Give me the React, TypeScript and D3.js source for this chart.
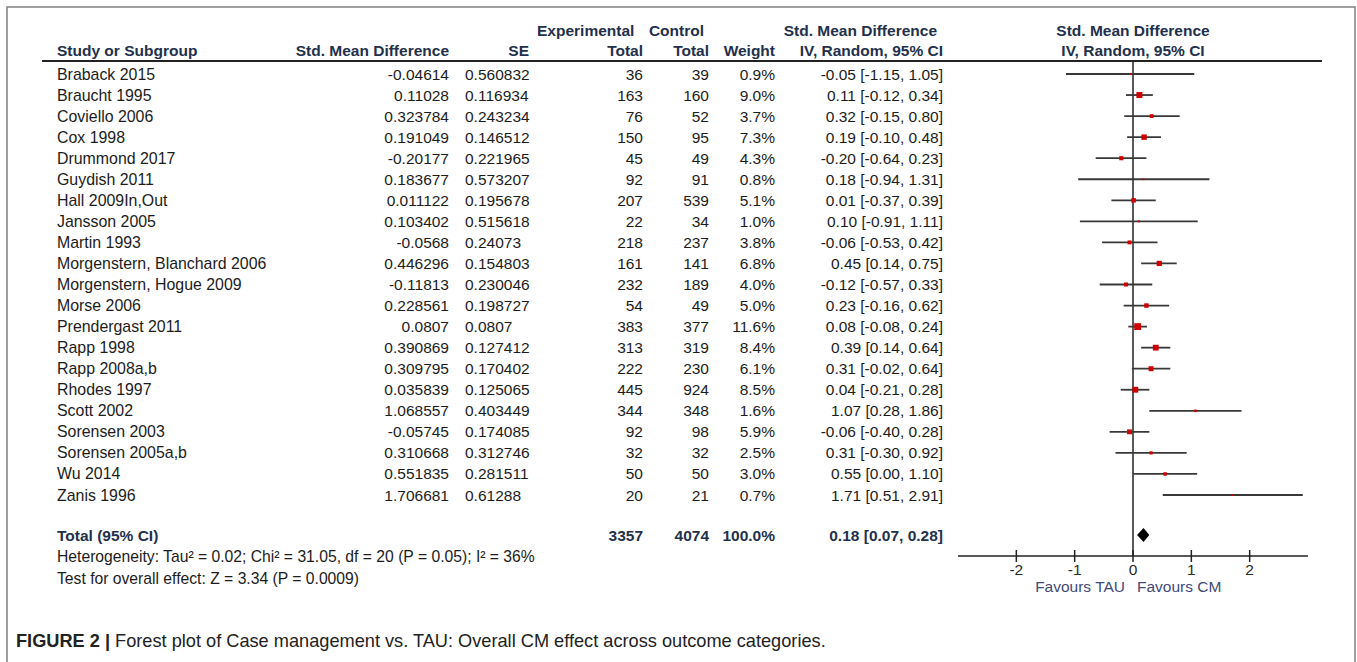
import React from "react";
import * as d3 from "d3";

const studies = [
  "Braback 2015", "Braucht 1995", "Coviello 2006", "Cox 1998", "Drummond 2017",
  "Guydish 2011", "Hall 2009In,Out", "Jansson 2005", "Martin 1993",
  "Morgenstern, Blanchard 2006", "Morgenstern, Hogue 2009", "Morse 2006",
  "Prendergast 2011", "Rapp 1998", "Rapp 2008a,b", "Rhodes 1997", "Scott 2002",
  "Sorensen 2003", "Sorensen 2005a,b", "Wu 2014", "Zanis 1996",
];
const smdText = [
  "-0.04614", "0.11028", "0.323784", "0.191049", "-0.20177", "0.183677", "0.011122",
  "0.103402", "-0.0568", "0.446296", "-0.11813", "0.228561", "0.0807", "0.390869",
  "0.309795", "0.035839", "1.068557", "-0.05745", "0.310668", "0.551835", "1.706681",
];
const seText = [
  "0.560832", "0.116934", "0.243234", "0.146512", "0.221965", "0.573207", "0.195678",
  "0.515618", "0.24073", "0.154803", "0.230046", "0.198727", "0.0807", "0.127412",
  "0.170402", "0.125065", "0.403449", "0.174085", "0.312746", "0.281511", "0.61288",
];
const expTotal = [36, 163, 76, 150, 45, 92, 207, 22, 218, 161, 232, 54, 383, 313, 222, 445, 344, 92, 32, 50, 20];
const ctrlTotal = [39, 160, 52, 95, 49, 91, 539, 34, 237, 141, 189, 49, 377, 319, 230, 924, 348, 98, 32, 50, 21];
const weights = [0.9, 9.0, 3.7, 7.3, 4.3, 0.8, 5.1, 1.0, 3.8, 6.8, 4.0, 5.0, 11.6, 8.4, 6.1, 8.5, 1.6, 5.9, 2.5, 3.0, 0.7];
const est = [-0.05, 0.11, 0.32, 0.19, -0.2, 0.18, 0.01, 0.1, -0.06, 0.45, -0.12, 0.23, 0.08, 0.39, 0.31, 0.04, 1.07, -0.06, 0.31, 0.55, 1.71];
const lo = [-1.15, -0.12, -0.15, -0.1, -0.64, -0.94, -0.37, -0.91, -0.53, 0.14, -0.57, -0.16, -0.08, 0.14, -0.02, -0.21, 0.28, -0.4, -0.3, 0.0, 0.51];
const hi = [1.05, 0.34, 0.8, 0.48, 0.23, 1.31, 0.39, 1.11, 0.42, 0.75, 0.33, 0.62, 0.24, 0.64, 0.64, 0.28, 1.86, 0.28, 0.92, 1.1, 2.91];

const totalExp = 3357;
const totalCtrl = 4074;
const totalWeight = "100.0%";
const totalEst = 0.18;
const totalLo = 0.07;
const totalHi = 0.28;
const axisTicks = [-2, -1, 0, 1, 2];
const heterogeneity = "Heterogeneity: Tau\u00b2 = 0.02; Chi\u00b2 = 31.05, df = 20 (P = 0.05); I\u00b2 = 36%";
const overallTest = "Test for overall effect: Z = 3.34 (P = 0.0009)";
const captionBold = "FIGURE 2 |";
const captionText = " Forest plot of Case management vs. TAU: Overall CM effect across outcome categories.";

const W = 1357;
const H = 662;
const FONT = "'Liberation Sans', Arial, sans-serif";
const NAVY = "#23304c";
const TXT = "#1c1c1c";

const f2 = (v: number) => (v < 0 ? "-" : "") + Math.abs(v).toFixed(2);
const ciStr = (e: number, l: number, h: number) => `${f2(e)} [${f2(l)}, ${f2(h)}]`;

export default function App() {
  const x = d3.scaleLinear().domain([-3, 3]).range([958, 1308]);
  const y = d3.scalePoint<number>().domain(d3.range(studies.length)).range([74, 495]);
  const sz = d3.scaleSqrt().domain([0, 11.6]).range([0, 6.8]);
  const axisY = 556;
  const totalY = 535;
  const fs = 15.5;

  const diamond = [
    [x(totalLo), totalY],
    [x(totalEst), totalY - 7],
    [x(totalHi), totalY],
    [x(totalEst), totalY + 7],
  ];

  return (
    <svg
      width={W}
      height={H}
      style={{ position: "absolute", left: 0, top: 0, background: "#fff" }}
      fontFamily={FONT}
    >
      <rect x={7} y={7} width={1348} height={680} fill="#fff" stroke="#808080" strokeWidth={1.5} />

      {/* Header */}
      <g fill={NAVY} fontWeight="bold" fontSize={fs}>
        <text x={537} y={36}>Experimental</text>
        <text x={704} y={36} textAnchor="end">Control</text>
        <text x={937} y={36} textAnchor="end">Std. Mean Difference</text>
        <text x={1133} y={36} textAnchor="middle">Std. Mean Difference</text>
        <text x={57} y={56}>Study or Subgroup</text>
        <text x={449} y={56} textAnchor="end">Std. Mean Difference</text>
        <text x={529} y={56} textAnchor="end">SE</text>
        <text x={643} y={56} textAnchor="end">Total</text>
        <text x={709} y={56} textAnchor="end">Total</text>
        <text x={775} y={56} textAnchor="end">Weight</text>
        <text x={943} y={56} textAnchor="end">IV, Random, 95% CI</text>
        <text x={1133} y={56} textAnchor="middle">IV, Random, 95% CI</text>
      </g>
      <line x1={42} x2={1322} y1={61} y2={61} stroke="#222" strokeWidth={2} />

      {/* Study rows */}
      <g fill={TXT} fontSize={fs}>
        {studies.map((s, i) => {
          const yy = (y(i) as number) + 5.5;
          return (
            <g key={s}>
              <text x={57} y={yy} fontSize={15.9}>{s}</text>
              <text x={449} y={yy} textAnchor="end">{smdText[i]}</text>
              <text x={465} y={yy}>{seText[i]}</text>
              <text x={643} y={yy} textAnchor="end">{expTotal[i]}</text>
              <text x={709} y={yy} textAnchor="end">{ctrlTotal[i]}</text>
              <text x={775} y={yy} textAnchor="end">{weights[i].toFixed(1)}%</text>
              <text x={943} y={yy} textAnchor="end">{ciStr(est[i], lo[i], hi[i])}</text>
            </g>
          );
        })}
      </g>

      {/* Total row */}
      <g fill={NAVY} fontWeight="bold" fontSize={fs}>
        <text x={57} y={totalY + 5.5}>Total (95% CI)</text>
        <text x={643} y={totalY + 5.5} textAnchor="end">{totalExp}</text>
        <text x={709} y={totalY + 5.5} textAnchor="end">{totalCtrl}</text>
        <text x={775} y={totalY + 5.5} textAnchor="end">{totalWeight}</text>
        <text x={943} y={totalY + 5.5} textAnchor="end">{ciStr(totalEst, totalLo, totalHi)}</text>
      </g>
      <g fill={TXT} fontSize={15.7}>
        <text x={57} y={562}>{heterogeneity}</text>
        <text x={57} y={584}>{overallTest}</text>
      </g>

      {/* Forest plot */}
      <line x1={x(0)} x2={x(0)} y1={61} y2={axisY} stroke="#222" strokeWidth={1.5} />
      {studies.map((s, i) => {
        const yy = y(i) as number;
        const r = Math.max(1.8, sz(weights[i]));
        return (
          <g key={"p" + s}>
            <line x1={x(lo[i])} x2={x(hi[i])} y1={yy} y2={yy} stroke="#383838" strokeWidth={1.8} />
            <rect x={x(est[i]) - r / 2} y={yy - r / 2} width={r} height={r} fill="#d00000" />
          </g>
        );
      })}
      <polygon points={diamond.map((p) => p.join(",")).join(" ")} fill="#000" />

      {/* Axis */}
      <line x1={x(-3)} x2={x(3)} y1={axisY} y2={axisY} stroke="#222" strokeWidth={1.5} />
      {axisTicks.map((t) => (
        <g key={t}>
          <line x1={x(t)} x2={x(t)} y1={axisY - 6} y2={axisY + 6} stroke="#222" strokeWidth={1.5} />
          <text x={x(t)} y={575} textAnchor="middle" fontSize={fs} fill="#2a2a2a">{t}</text>
        </g>
      ))}
      <g fill="#3f4b78" fontSize={fs}>
        <text x={1125} y={592} textAnchor="end">Favours TAU</text>
        <text x={1137} y={592}>Favours CM</text>
      </g>

      {/* Caption */}
      <text x={16} y={647} fontSize={18.2} fill="#222">
        <tspan fontWeight="bold">{captionBold}</tspan>
        <tspan>{captionText}</tspan>
      </text>
    </svg>
  );
}
